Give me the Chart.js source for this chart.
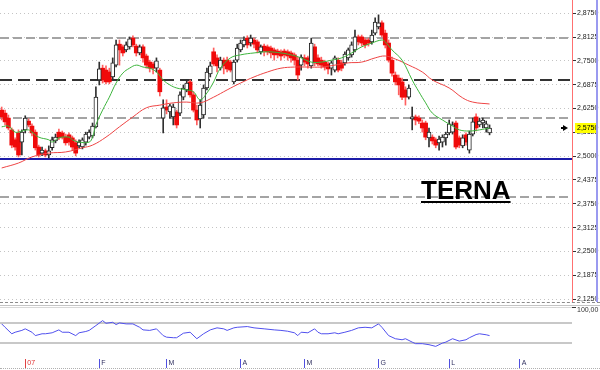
<!DOCTYPE html>
<html>
<head>
<meta charset="utf-8">
<script src="https://cdn.jsdelivr.net/npm/chart.js@4.4.1/dist/chart.umd.min.js"></script>
<style>
  html, body { margin: 0; padding: 0; background: #fff; }
  #wrap { position: relative; width: 600px; height: 370px; overflow: hidden; background: #fff; }
  #priceCanvas { position: absolute; left: 0; top: 0; }
  #oscCanvas { position: absolute; left: 0; top: 305px; }
  .sep1 { position: absolute; left: 0; top: 302px; width: 600px; border-top: 1px dashed #8a8a8a; }
  .sep2 { position: absolute; left: 0; top: 305px; width: 600px; border-top: 1px solid #c4c4c4; }
  .foot { position: absolute; left: 0; top: 368px; width: 600px; border-top: 1px dotted #b0b0b0; }
  .vline { position: absolute; left: 596px; top: 0; width: 2px; height: 302px; background: #9a9af0; }
  #title { position: absolute; left: 421px; top: 175px; font: bold 26px "Liberation Sans", Arial, sans-serif;
           color: #000; text-decoration: underline; text-decoration-thickness: 2px; text-underline-offset: 2px; }
</style>
</head>
<body>
<div id="wrap">
  <canvas id="priceCanvas" width="600" height="303"></canvas>
  <canvas id="oscCanvas" width="600" height="65"></canvas>
  <div class="sep1"></div>
  <div class="sep2"></div>
  <div class="foot"></div>
  <div class="vline"></div>
  <div id="title">TERNA</div>
</div>
<script>
// dati giornalieri (fine dic 2006 - metà luglio 2007)
const slotCount = 170;

const opens = [
  2.621,2.613,2.600,2.569,2.543,2.561,2.537,2.569,2.592,2.579,
  2.563,2.524,2.508,2.514,2.503,2.522,2.540,2.563,2.561,2.550,
  2.556,2.548,2.535,2.527,2.524,2.537,2.550,2.553,2.577,2.700,
  2.731,2.726,2.721,2.708,2.739,2.794,2.787,2.779,2.787,2.810,
  2.789,2.771,2.787,2.763,2.747,2.742,2.731,2.726,2.600,2.629,
  2.616,2.603,2.616,2.613,2.655,2.674,2.695,2.661,2.621,2.598,
  2.608,2.679,2.716,2.774,2.758,2.731,2.752,2.752,2.747,2.695,
  2.752,2.779,2.792,2.810,2.797,2.805,2.800,2.774,2.789,2.787,
  2.784,2.779,2.776,2.774,2.776,2.774,2.771,2.766,2.752,2.739,
  2.758,2.758,2.737,2.787,2.758,2.752,2.747,2.742,2.731,2.726,
  2.752,2.745,2.745,2.758,2.766,2.779,2.813,2.813,2.805,2.805,
  2.800,2.823,2.839,2.850,2.823,2.797,2.752,2.713,2.705,2.695,
  2.674,2.655,2.598,2.603,2.600,2.587,2.587,2.548,2.550,2.543,
  2.535,2.537,2.548,2.561,2.563,2.587,2.548,2.527,2.556,2.516,
  2.558,2.603,2.582,2.587,2.574,2.561
];
const closes = [
  2.603,2.590,2.574,2.529,2.524,2.503,2.563,2.600,2.582,2.561,
  2.522,2.503,2.516,2.503,2.514,2.543,2.550,2.548,2.550,2.535,
  2.537,2.524,2.508,2.537,2.543,2.558,2.563,2.579,2.655,2.729,
  2.700,2.695,2.695,2.745,2.792,2.779,2.771,2.792,2.808,2.792,
  2.771,2.787,2.758,2.739,2.731,2.731,2.750,2.669,2.627,2.621,
  2.632,2.629,2.582,2.661,2.679,2.692,2.661,2.621,2.595,2.634,
  2.679,2.721,2.737,2.742,2.737,2.752,2.737,2.729,2.726,2.747,
  2.784,2.797,2.805,2.792,2.810,2.794,2.779,2.787,2.776,2.774,
  2.771,2.766,2.766,2.763,2.766,2.763,2.758,2.752,2.713,2.760,
  2.747,2.742,2.797,2.745,2.742,2.739,2.734,2.729,2.745,2.758,
  2.726,2.731,2.768,2.779,2.792,2.813,2.800,2.797,2.792,2.797,
  2.818,2.852,2.850,2.818,2.792,2.752,2.718,2.695,2.687,2.655,
  2.655,2.679,2.603,2.595,2.592,2.574,2.550,2.563,2.540,2.529,
  2.545,2.550,2.558,2.585,2.582,2.524,2.529,2.548,2.537,2.558,
  2.590,2.574,2.592,2.595,2.585,2.574
];
const highs = [
  2.629,2.621,2.608,2.574,2.548,2.569,2.569,2.606,2.598,2.585,
  2.569,2.529,2.524,2.519,2.527,2.550,2.558,2.571,2.566,2.558,
  2.561,2.553,2.543,2.543,2.548,2.563,2.569,2.587,2.682,2.747,
  2.739,2.737,2.731,2.758,2.805,2.805,2.792,2.800,2.813,2.816,
  2.794,2.792,2.792,2.768,2.752,2.747,2.758,2.731,2.648,2.648,
  2.637,2.637,2.621,2.669,2.687,2.700,2.700,2.669,2.634,2.648,
  2.687,2.731,2.747,2.784,2.766,2.760,2.758,2.760,2.752,2.752,
  2.794,2.805,2.813,2.816,2.818,2.810,2.805,2.792,2.794,2.792,
  2.789,2.784,2.781,2.779,2.781,2.779,2.776,2.771,2.760,2.766,
  2.766,2.763,2.810,2.794,2.766,2.760,2.752,2.747,2.750,2.763,
  2.758,2.752,2.774,2.784,2.800,2.831,2.818,2.818,2.810,2.810,
  2.831,2.863,2.871,2.855,2.831,2.805,2.760,2.721,2.713,2.705,
  2.682,2.687,2.629,2.608,2.606,2.595,2.592,2.574,2.556,2.548,
  2.553,2.556,2.563,2.595,2.590,2.592,2.553,2.556,2.561,2.566,
  2.600,2.611,2.600,2.600,2.592,2.582
];
const lows = [
  2.595,2.582,2.569,2.522,2.516,2.498,2.503,2.561,2.577,2.553,
  2.516,2.498,2.501,2.498,2.495,2.516,2.535,2.543,2.545,2.529,
  2.529,2.516,2.501,2.522,2.519,2.529,2.545,2.548,2.574,2.687,
  2.692,2.690,2.690,2.703,2.734,2.739,2.763,2.774,2.781,2.787,
  2.763,2.766,2.747,2.731,2.721,2.716,2.721,2.658,2.561,2.611,
  2.600,2.582,2.574,2.606,2.648,2.669,2.655,2.616,2.582,2.574,
  2.600,2.674,2.708,2.737,2.721,2.726,2.716,2.721,2.721,2.690,
  2.747,2.774,2.787,2.784,2.789,2.784,2.771,2.768,2.763,2.766,
  2.758,2.752,2.758,2.752,2.758,2.752,2.747,2.739,2.700,2.726,
  2.737,2.731,2.731,2.737,2.737,2.731,2.726,2.716,2.713,2.721,
  2.721,2.724,2.739,2.752,2.760,2.774,2.792,2.789,2.784,2.789,
  2.794,2.818,2.834,2.813,2.784,2.747,2.710,2.687,2.661,2.648,
  2.634,2.650,2.569,2.582,2.585,2.563,2.543,2.524,2.532,2.522,
  2.516,2.524,2.529,2.556,2.558,2.519,2.522,2.522,2.529,2.508,
  2.553,2.566,2.577,2.574,2.563,2.556
];

// media mobile breve (verde) e lunga (rossa)
const fastIdx = [0,2,4,6,8,9,11,14,15,17,20,21,23,26,27,28,30,32,34,36,38,40,42,44,46,48,50,52,55,57,59,61,63,65,68,71,75,79,83,86,89,92,95,98,101,104,107,110,113,114,116,119,122,124,126,128,131,134,136,139,142,145];
const fastVal = [2.577,2.579,2.563,2.566,2.569,2.563,2.550,2.543,2.537,2.548,2.550,2.543,2.537,2.537,2.550,2.582,2.621,2.655,2.692,2.718,2.731,2.739,2.734,2.731,2.721,2.700,2.687,2.679,2.674,2.669,2.648,2.666,2.695,2.731,2.758,2.766,2.771,2.774,2.771,2.766,2.758,2.747,2.747,2.752,2.758,2.771,2.787,2.797,2.805,2.800,2.779,2.752,2.700,2.669,2.640,2.613,2.595,2.579,2.569,2.566,2.569,2.574];
const slowIdx = [0,5,9,14,19,24,27,31,35,39,43,47,51,55,59,63,67,71,75,79,83,87,91,95,99,103,107,111,114,117,121,125,128,133,137,140,145];
const slowVal = [2.469,2.482,2.498,2.508,2.511,2.522,2.529,2.550,2.577,2.603,2.627,2.634,2.640,2.642,2.640,2.655,2.674,2.692,2.708,2.721,2.731,2.734,2.734,2.734,2.739,2.745,2.747,2.758,2.763,2.755,2.739,2.721,2.700,2.679,2.653,2.642,2.637];

// oscillatore (pannello inferiore)
const rsiIdx = [0,1,3,4,6,7,9,10,12,13,15,17,18,20,22,23,25,26,28,30,31,33,34,35,37,39,41,42,44,46,48,49,51,52,54,56,58,60,62,64,66,67,69,70,73,75,78,81,83,85,87,88,89,91,93,94,95,97,99,100,102,104,106,108,110,112,113,115,117,119,120,122,123,125,127,129,131,132,134,136,138,139,141,142,144,145];
const rsiVal = [67.5,61,48.5,51.5,55,58,51.5,45,48.5,48.5,50.4,56,51.5,51.5,45,50.4,52.9,55,64.3,73.8,68.7,70.6,66.2,69.4,67.5,67.5,61,56,55,58,45,42,40.9,40.9,49.6,51.5,39,48.5,56,59.9,58,55,59.9,61,62.4,59.9,58,56,55,53.4,50.4,45,51.5,50.4,58,51.5,48.5,48.5,50.4,48.5,51.5,55,59.9,61,59.9,67.5,61,45,39,37,39,32.5,29.5,29.5,27.5,24.3,30.6,32.5,39,34.4,37,40.9,47,48.5,46.6,45];

// assi
const priceTicks = [2.125,2.1875,2.25,2.3125,2.375,2.4375,2.5,2.5625,2.625,2.6875,2.75,2.8125,2.875];
const monthIdx = [7,29,49,71,90,112,133,154];
const monthLabels = ['07','F','M','A','M','G','L','A'];
const rsiTicks = [30,70,100];

// livelli orizzontali e ultimo prezzo
const levelValues = [2.81, 2.70, 2.60, 2.493, 2.393];
const lastPrice = 2.575;

Chart.defaults.font.family = "'Liberation Sans', Arial, sans-serif";

const labels = Array.from({length: slotCount}, (_, i) => i);
const isUp = opens.map((o, i) => closes[i] >= o);
const upBody = opens.map((o, i) => isUp[i] ? [o, closes[i]] : null);
const downBody = opens.map((o, i) => !isUp[i] ? [o, closes[i]] : null);
const upWick = lows.map((l, i) => isUp[i] ? [l, highs[i]] : null);
const downWick = lows.map((l, i) => !isUp[i] ? [l, highs[i]] : null);

function spread(idx, vals) {
    const out = new Array(slotCount).fill(null);
    idx.forEach((k, j) => { out[k] = vals[j]; });
    return out;
}

const fmt = v => v.toFixed(4).replace('.', ',');

const levelStyle = [
    {color: '#a4a4a4', width: 2, dash: [9, 4]},
    {color: '#333333', width: 2, dash: [12, 6]},
    {color: '#a4a4a4', width: 2, dash: [9, 4]},
    {color: '#1c1ca8', width: 2, dash: []},
    {color: '#a4a4a4', width: 2, dash: [9, 4]}
];

const levelsPlugin = {
    id: 'levels',
    beforeDatasetsDraw(chart) {
        const {ctx, chartArea: a} = chart;
        const y = chart.scales.y;
        levelValues.forEach((v, i) => {
            const st = levelStyle[i];
            const py = Math.round(y.getPixelForValue(v));
            ctx.save();
            ctx.strokeStyle = st.color;
            ctx.lineWidth = st.width;
            ctx.setLineDash(st.dash);
            ctx.beginPath();
            ctx.moveTo(a.left, py);
            ctx.lineTo(a.right, py);
            ctx.stroke();
            ctx.restore();
        });
    },
    afterDraw(chart) {
        const {ctx, chartArea: a} = chart;
        const py = Math.round(chart.scales.y.getPixelForValue(lastPrice));
        ctx.save();
        // etichetta ultimo prezzo
        ctx.fillStyle = '#ffff00';
        ctx.fillRect(a.right + 3, py - 5, 23, 10);
        ctx.fillStyle = '#000';
        ctx.font = "7px 'Liberation Sans', Arial, sans-serif";
        ctx.textBaseline = 'middle';
        ctx.fillText(fmt(lastPrice), a.right + 5, py + 0.5);
        // freccetta
        const ax = a.right - 9;
        ctx.beginPath();
        ctx.moveTo(ax, py - 3);
        ctx.lineTo(ax + 5, py);
        ctx.lineTo(ax, py + 3);
        ctx.closePath();
        ctx.fill();
        ctx.fillRect(ax - 2, py - 1, 2, 2);
        ctx.restore();
    }
};

new Chart(document.getElementById('priceCanvas'), {
    type: 'bar',
    data: {
        labels: labels,
        datasets: [
            {type: 'line', data: spread(fastIdx, fastVal), borderColor: '#3cb43c', borderWidth: 1,
             pointRadius: 0, spanGaps: true, tension: 0.4, order: 0},
            {type: 'line', data: spread(slowIdx, slowVal), borderColor: '#ee4444', borderWidth: 1,
             pointRadius: 0, spanGaps: true, tension: 0.4, order: 1},
            {data: upBody, backgroundColor: '#ffffff', borderColor: '#202020', borderWidth: 1,
             borderSkipped: false, barThickness: 4, grouped: false, order: 2},
            {data: downBody, backgroundColor: '#f00a0a', borderWidth: 0,
             barThickness: 4, grouped: false, order: 3},
            {data: upWick, backgroundColor: '#303030', barThickness: 1, grouped: false, order: 4},
            {data: downWick, backgroundColor: '#ff6060', barThickness: 1, grouped: false, order: 5}
        ]
    },
    options: {
        responsive: false,
        animation: false,
        events: [],
        layout: {padding: 0},
        plugins: {legend: {display: false}, tooltip: {enabled: false}},
        scales: {
            x: {type: 'category', offset: true, display: false},
            y: {
                position: 'right',
                min: 2.1145,
                max: 2.910,
                afterBuildTicks: s => { s.ticks = priceTicks.map(v => ({value: v})); },
                afterFit: s => { s.width = 28; s.paddingTop = 0; s.paddingBottom = 0; },
                ticks: {autoSkip: false, font: {size: 7}, color: '#222', padding: 1, callback: v => fmt(v)},
                grid: {color: '#c4c4c4', lineWidth: 1, tickColor: '#333', tickLength: 4},
                border: {color: '#ff7070', width: 1, dash: [1, 3]}
            }
        }
    },
    plugins: [levelsPlugin]
});

new Chart(document.getElementById('oscCanvas'), {
    type: 'line',
    data: {
        labels: labels,
        datasets: [{data: spread(rsiIdx, rsiVal), borderColor: '#5050ee', borderWidth: 1,
                    pointRadius: 0, spanGaps: true, tension: 0}]
    },
    options: {
        responsive: false,
        animation: false,
        events: [],
        layout: {padding: {top: 2, left: 0, right: 0, bottom: 0}},
        plugins: {legend: {display: false}, tooltip: {enabled: false}},
        scales: {
            x: {
                type: 'category',
                offset: true,
                afterBuildTicks: s => { s.ticks = monthIdx.map(v => ({value: v})); },
                afterFit: s => { s.height = 11; },
                grid: {drawOnChartArea: false, offset: false, tickLength: 9,
                       tickColor: c => c.index === 0 ? '#e04040' : '#5050e0'},
                border: {display: false},
                ticks: {autoSkip: false, maxRotation: 0, align: 'start', padding: -9, labelOffset: 2,
                        font: {size: 7}, color: c => c.index === 0 ? '#e03030' : '#303060',
                        callback: (v, i) => monthLabels[i]}
            },
            y: {
                position: 'right',
                min: 0,
                max: 100,
                afterBuildTicks: s => { s.ticks = rsiTicks.map(v => ({value: v})); },
                afterFit: s => { s.width = 28; s.paddingTop = 0; s.paddingBottom = 0; },
                ticks: {autoSkip: false, font: {size: 7}, color: '#333', padding: 1, labelOffset: 3,
                        callback: v => v === 100 ? '100,00' : ''},
                grid: {color: c => (c.tick && c.tick.value === 100) ? '#d8d8d8' : '#c8c8c8',
                       lineWidth: c => (c.tick && c.tick.value === 100) ? 1 : 2,
                       tickLength: 4,
                       tickColor: c => (c.tick && c.tick.value === 100) ? '#333' : 'rgba(0,0,0,0)'},
                border: {display: false}
            }
        }
    }
});
</script>
</body>
</html>
